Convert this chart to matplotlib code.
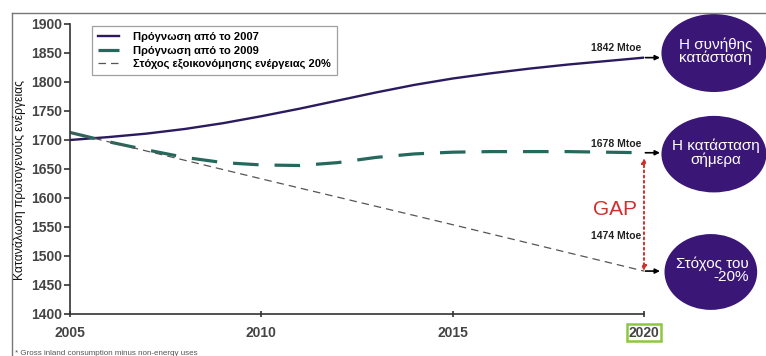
import matplotlib
matplotlib.use("Agg")
import matplotlib.pyplot as plt
from matplotlib.patches import Ellipse
from matplotlib.lines import Line2D
from matplotlib import transforms

plt.rcParams["font.family"] = ["Liberation Sans", "DejaVu Sans"]

# primary energy consumption, Mtoe
years = [2005, 2006, 2007, 2008, 2009, 2010, 2011, 2012, 2013,
         2014, 2015, 2016, 2017, 2018, 2019, 2020]
forecast_2007 = [1700, 1705, 1711, 1719, 1729, 1741, 1754, 1768, 1782,
                 1795, 1806, 1815, 1823, 1830, 1836, 1842]
forecast_2009 = [1713, 1697, 1683, 1670, 1661, 1657, 1656, 1661, 1670,
                 1676, 1679, 1680, 1680, 1680, 1679, 1678]
target_years = [2005, 2010, 2015, 2020]
target_20 = [1713, 1633, 1554, 1474]

series_labels = ["Πρόγνωση από το 2007", "Πρόγνωση από το 2009",
                 "Στόχος εξοικονόμησης ενέργειας 20%"]
end_labels = ["1842 Mtoe", "1678 Mtoe", "1474 Mtoe"]
bubble_texts = ["Η συνήθης\nκατάσταση", "Η κατάσταση\nσήμερα", "Στόχος του\n-20%"]
y_ticks = [1400, 1450, 1500, 1550, 1600, 1650, 1700, 1750, 1800, 1850, 1900]
x_ticks = [2005, 2010, 2015, 2020]

NAVY = "#2b1b5e"
TEAL = "#25695c"
GREY = "#555555"
PURPLE = "#3a1676"

fig = plt.figure(figsize=(7.66, 3.56), dpi=100)
ax = fig.add_axes([0.0914, 0.118, 0.7493, 0.8146])

ax.plot(years, forecast_2007, color=NAVY, lw=1.7, label=series_labels[0])
ax.plot(years, forecast_2009, color=TEAL, lw=2.3, dashes=(8, 5),
        label=series_labels[1])
ax.plot(target_years, target_20, color=GREY, lw=0.9, dashes=(6, 4),
        label=series_labels[2])

ax.set_xlim(2005, 2020)
ax.set_ylim(1400, 1900)
ax.set_yticks(y_ticks)
ax.set_xticks(x_ticks)
for s in ["top", "right"]:
    ax.spines[s].set_visible(False)
for s in ["left", "bottom"]:
    ax.spines[s].set_color("#333333")
    ax.spines[s].set_linewidth(1.2)
ax.tick_params(axis="y", direction="out", length=4, width=1.2, color="#333333",
               labelsize=10, labelcolor="#444444", pad=2)
ax.tick_params(axis="x", direction="inout", length=5, width=1.2, color="#333333",
               labelsize=10, labelcolor="#444444", pad=6)
for lab in ax.get_xticklabels() + ax.get_yticklabels():
    lab.set_fontweight("bold")
ax.get_xticklabels()[-1].set_bbox(dict(facecolor="none", edgecolor="#8dc63f",
                                       linewidth=1.8, pad=1.0))

leg = ax.legend(loc="upper left", bbox_to_anchor=(0.034, 1.0),
                prop={"weight": "bold", "size": 8}, frameon=True,
                fancybox=False, handlelength=1.9, borderpad=0.55,
                labelspacing=0.3, handletextpad=1.3, borderaxespad=0.2)
leg.get_frame().set_edgecolor("#888888")
leg.get_frame().set_linewidth(0.9)

# value labels at 2020 and arrows towards the bubbles
end_values = [forecast_2007[-1], forecast_2009[-1], target_20[-1]]
label_offsets = [3, 3, 22]
arrow_tf = transforms.offset_copy(ax.transData, fig, x=16, y=0, units="dots")
for val, lab, off in zip(end_values, end_labels, label_offsets):
    ax.annotate(lab, xy=(2020, val), xytext=(-2, off), textcoords="offset points",
                ha="right", va="bottom", fontsize=7.5, fontweight="bold",
                color="#222222", annotation_clip=False)
    ax.annotate("", xy=(2020, val), xycoords=arrow_tf, xytext=(2020, val),
                textcoords="data", annotation_clip=False,
                arrowprops=dict(arrowstyle="-|>", color="black", lw=1.2,
                                mutation_scale=7, shrinkA=1, shrinkB=0))

# gap between today's forecast and the target
ax.annotate("", xy=(2020, target_20[-1]), xytext=(2020, forecast_2009[-1] - 9),
            annotation_clip=False,
            arrowprops=dict(arrowstyle="<|-|>", color="#d0302b", lw=1.4,
                            linestyle=":", mutation_scale=7, shrinkA=0, shrinkB=0))
ax.text(2019.25, 1580, "GAP", color="#d0302b", fontsize=15, ha="center",
        va="center")

# scenario bubbles
bubbles = [((0.932, 0.851), 0.137, 0.219), ((0.932, 0.567), 0.137, 0.215),
           ((0.928, 0.236), 0.121, 0.213)]
for (xy, w, h), txt in zip(bubbles, bubble_texts):
    fig.add_artist(Ellipse(xy, w, h, transform=fig.transFigure,
                           facecolor=PURPLE, edgecolor="none"))
    fig.text(xy[0] + 0.002, xy[1] + 0.005, txt, color="white", fontsize=11,
             ha="center", va="center", linespacing=0.95,
             multialignment="right" if txt.endswith("%") else "center")

fig.text(0.026, 0.494, "Κατανάλωση πρωτογενούς ενέργειας", rotation=90,
         fontsize=8.7, ha="center", va="center", color="#111111")
fig.text(0.02, 0.008, "* Gross inland consumption minus non-energy uses",
         fontsize=5.8, color="#555555", ha="left", va="center")

# outer frame
fig.add_artist(Line2D([0.016, 1.0], [0.963, 0.963], transform=fig.transFigure,
                      color="#777777", lw=1.0))
fig.add_artist(Line2D([0.016, 0.016], [0.0, 0.963], transform=fig.transFigure,
                      color="#777777", lw=1.0))

fig.savefig("out.png", dpi=100, facecolor="white")
